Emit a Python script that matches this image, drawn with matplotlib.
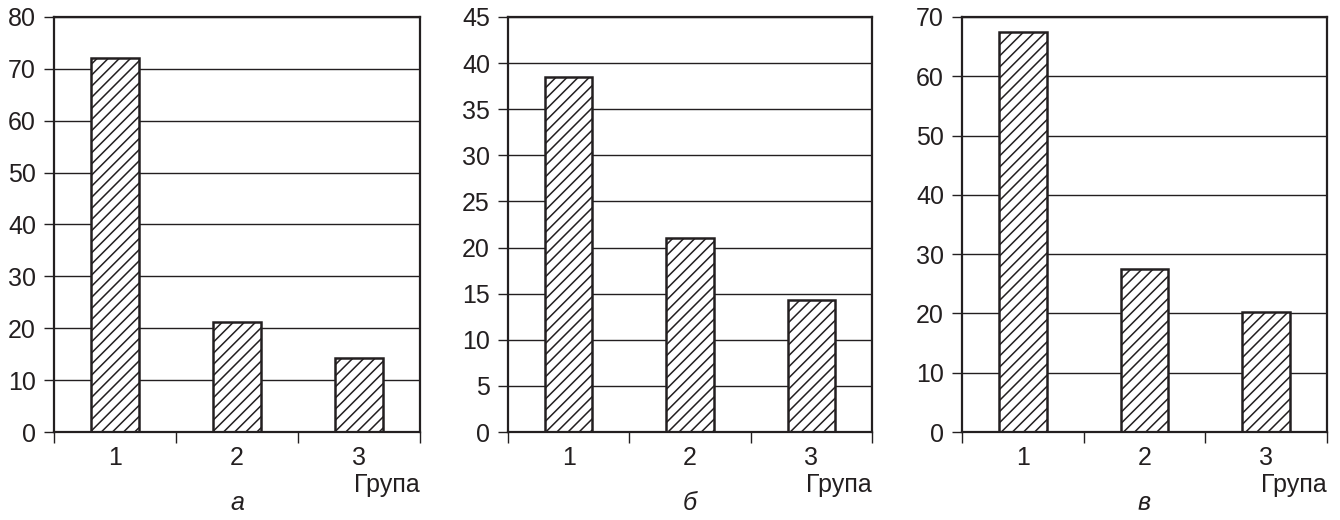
import numpy as np
import matplotlib
matplotlib.use("Agg")
import matplotlib.pyplot as plt

plt.rcParams['font.family'] = ['Liberation Sans', 'DejaVu Sans']
plt.rcParams['hatch.linewidth'] = 1.1

groups = [1, 2, 3]
values_a = [72, 21.3, 14.3]
values_b = [38.5, 21.0, 14.3]
values_c = [67.5, 27.5, 20.2]
ymax = [80, 45, 70]
ystep = [10, 5, 10]
panel_labels = ["а", "б", "в"]
x_title = "Група"

ink = "#231f20"
W, H = 1340, 520
# axes boxes in pixels: left, right
boxes = [(54, 420), (508, 872), (962, 1327)]
top_px, bottom_px = 17, 432

fig = plt.figure(figsize=(W / 100, H / 100), dpi=100)

for (l, r), vals, ym, st, lab in zip(boxes, [values_a, values_b, values_c],
                                     ymax, ystep, panel_labels):
    ax = fig.add_axes([l / W, (H - bottom_px) / H, (r - l) / W,
                       (bottom_px - top_px) / H])
    ax.bar(groups, vals, width=0.39, facecolor="white", edgecolor=ink,
           linewidth=1.8, hatch="///", zorder=3)
    ax.set_xlim(0.5, 3.5)
    ax.set_ylim(0, ym)
    ax.set_yticks(np.arange(0, ym + 1, st))
    ax.grid(axis="y", color=ink, linewidth=1.0, zorder=1)
    ax.set_axisbelow(True)
    for s in ax.spines.values():
        s.set_linewidth(1.6)
        s.set_color(ink)
        s.set_zorder(4)

    ax.set_xticks(groups)
    ax.set_xticks([0.5, 1.5, 2.5, 3.5], minor=True)
    ax.tick_params(axis="x", which="major", length=0, pad=10,
                   labelsize=18, labelcolor=ink)
    ax.tick_params(axis="x", which="minor", length=8, width=1.0,
                   color=ink, direction="out")
    ax.tick_params(axis="y", length=7, width=1.0, color=ink, pad=6,
                   labelsize=18, labelcolor=ink)

    ax.text(1.0, -0.128, x_title, transform=ax.transAxes, ha="right",
            va="center", fontsize=18, color=ink)
    ax.text(0.5, -0.172, lab, transform=ax.transAxes, ha="center",
            va="center", fontsize=18, style="italic", color=ink)

fig.savefig("out.png", dpi=100)
